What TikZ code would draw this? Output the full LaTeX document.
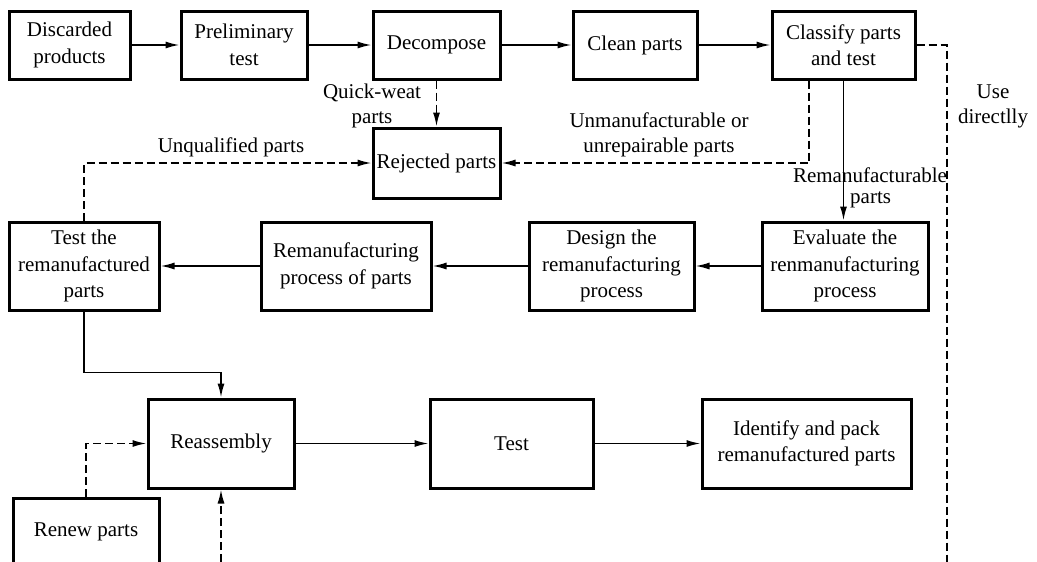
\documentclass[tikz,border=0pt]{standalone}
\usepackage{fontspec}
\setmainfont{Liberation Serif}
\usetikzlibrary{arrows.meta}
\begin{document}
\begin{tikzpicture}[x=1pt,y=-1pt,
  box/.style={draw,line width=3pt,rectangle,align=center,inner sep=0pt,
    font=\fontsize{21}{26.5}\selectfont},
  lbl/.style={align=center,inner sep=0pt,font=\fontsize{21}{25}\selectfont},
  conn/.style={line width=1.6pt,-{Latex[length=14pt,width=7pt]}},
  dsh/.style={conn,dash pattern=on 8pt off 4pt}]
\clip (0,0) rectangle (1037,562);
\fill[white] (0,0) rectangle (1037,562);
% top row
\node[box,minimum width=121,minimum height=68] (dp) at (69.5,45) {Discarded\\products};
\node[box,minimum width=126,minimum height=68] (pt) at (244,45) {Preliminary\\test};
\node[box,minimum width=127,minimum height=68] (dc) at (436.5,45) {Decompose};
\node[box,minimum width=124,minimum height=68] (cp) at (635,45) {Clean parts};
\node[box,minimum width=143,minimum height=68] (ct) at (843.5,45) {Classify parts\\and test};
\node[box,minimum width=127,minimum height=70] (rj) at (436.5,163) {Rejected parts};
% middle row
\node[box,minimum width=150,minimum height=88] (tr) at (84,266) {Test the\\remanufactured\\parts};
\node[box,minimum width=170,minimum height=88] (rp) at (346,266) {Remanufacturing\\process of parts};
\node[box,minimum width=165,minimum height=88] (dr) at (611.5,266) {Design the\\remanufacturing\\process};
\node[box,minimum width=166,minimum height=88] (ev) at (845,266) {Evaluate the\\renmanufacturing\\process};
% bottom row
\node[box,minimum width=146,minimum height=89] (ra) at (221,443.5) {Reassembly};
\node[box,minimum width=163,minimum height=89] (ts) at (511.5,443.5) {Test};
\node[box,minimum width=209,minimum height=89] (id) at (806.5,443.5) {Identify and pack\\remanufactured parts};
\node[box,minimum width=146,minimum height=68] (rn) at (86,532) {Renew parts};
% labels
\node[lbl] (lq) at (372,106) {Quick-weat\\parts};
\node[lbl] (lu) at (231,147) {Unqualified parts};
\node[lbl] (lm) at (659,135) {Unmanufacturable or\\unrepairable parts};
\node[lbl] (lr1) at (870,175) {Remanufacturable};
\node[lbl,anchor=west] (lr2) at (850,200) {parts};
\node[lbl] (ld) at (993,106) {Use\\directlly};
% coordinates
\coordinate (ud) at (947,562);
\coordinate (rb) at (221,562);
% connectors
\draw[conn] (dp) -- (pt);
\draw[conn] (pt) -- (dc);
\draw[conn] (dc) -- (cp);
\draw[conn] (cp) -- (ct);
\draw[dsh] (dc) -- (rj);
\draw[dsh] ([xshift=-34.5pt]ct.south) |- (rj.east);
\draw[conn] (ct.south) -- (ct.south |- ev.north);
\draw[dsh,-] (ct.east) -| (ud);
\draw[dsh] (tr.north) |- (rj.west);
\draw[conn] (ev) -- (dr);
\draw[conn] (dr) -- (rp);
\draw[conn] (rp) -- (tr);
\draw[conn] (tr.south) -- ++(0,61) -| (ra.north);
\draw[conn] (ra) -- (ts);
\draw[conn] (ts) -- (id);
\draw[dsh] (rn.north) |- (ra.west);
\draw[dsh] (rb) -- (ra.south);
\end{tikzpicture}
\end{document}
